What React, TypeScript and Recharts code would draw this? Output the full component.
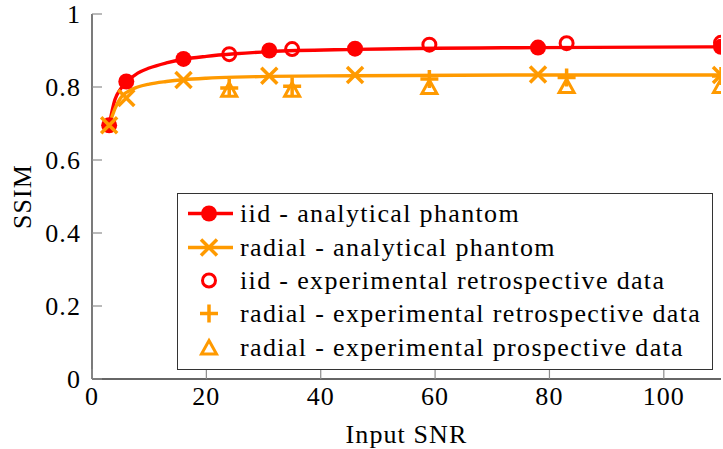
import { ComposedChart, Line, Scatter, XAxis, YAxis, Legend, Label } from "recharts";

const RED = "#ff0000";
const ORANGE = "#ff9a00";
const FONT = "'Liberation Serif', 'Times New Roman', serif";
const AXIS = "#333";
const TICK = "#8c8c8c";

const xTicks = [0, 20, 40, 60, 80, 100];
const yTicks = [0, 0.2, 0.4, 0.6, 0.8, 1];

// fitted curves
const curveSnr = [3, 4, 5, 6, 8, 10, 13, 16, 20, 25, 31, 46, 78, 110];
const iidCurve = [0.695, 0.765, 0.795, 0.813, 0.838, 0.852, 0.866, 0.876, 0.884, 0.891, 0.897, 0.903, 0.908, 0.91];
const radialCurve = [0.695, 0.74, 0.77, 0.785, 0.8, 0.808, 0.815, 0.82, 0.824, 0.827, 0.829, 0.831, 0.833, 0.833];

// analytical phantom markers
const phantomSnr = [3, 6, 16, 31, 46, 78, 110];
const iidPhantom = [0.695, 0.815, 0.877, 0.9, 0.905, 0.908, 0.91];
const radialPhantom = [0.695, 0.77, 0.819, 0.831, 0.833, 0.834, 0.833];

// experimental data
const expSnr = [24, 35, 59, 83, 110];
const iidRetro = [0.89, 0.904, 0.916, 0.92, 0.921];
const radialRetro = [0.797, 0.802, 0.822, 0.826, 0.83];
const radialProsp = [0.79, 0.79, 0.797, 0.8, 0.8];

const legendNames = [
  "iid - analytical phantom",
  "radial - analytical phantom",
  "iid - experimental retrospective data",
  "radial - experimental retrospective data",
  "radial - experimental prospective data",
];

const pts = (xs: number[], ys: number[]) => xs.map((x, i) => ({ x, y: ys[i] }));

// marker shapes
const dotShape = (cx: number, cy: number) => <circle cx={cx} cy={cy} r={8} fill={RED} />;
const xShape = (cx: number, cy: number) => (
  <path d={`M${cx - 8},${cy - 8}L${cx + 8},${cy + 8}M${cx - 8},${cy + 8}L${cx + 8},${cy - 8}`} stroke={ORANGE} strokeWidth={3.5} fill="none" />
);
const ringShape = (cx: number, cy: number) => <circle cx={cx} cy={cy} r={6.5} fill="none" stroke={RED} strokeWidth={3} />;
const plusShape = (cx: number, cy: number) => (
  <path d={`M${cx - 9},${cy}L${cx + 9},${cy}M${cx},${cy - 9}L${cx},${cy + 9}`} stroke={ORANGE} strokeWidth={3.5} fill="none" />
);
const triShape = (cx: number, cy: number) => (
  <polygon points={`${cx},${cy - 8} ${cx + 7.5},${cy + 5.5} ${cx - 7.5},${cy + 5.5}`} stroke={ORANGE} strokeWidth={3} fill="none" />
);

const icons = [
  <g><line x1={10} x2={55} y1={16.5} y2={16.5} stroke={RED} strokeWidth={3.4} />{dotShape(31, 16.5)}</g>,
  <g><line x1={10} x2={55} y1={16.5} y2={16.5} stroke={ORANGE} strokeWidth={3.4} />{xShape(31, 16.5)}</g>,
  ringShape(31, 16.5),
  plusShape(31, 16.5),
  triShape(31, 17.5),
];

const textStyle = { fontFamily: FONT, fontSize: 26, letterSpacing: 1.1, fill: "#000" };

const bottomTick = (p: any) => (
  <g>
    <line x1={p.x} x2={p.x} y1={p.y - 8} y2={p.y - 18} stroke={TICK} strokeWidth={1.2} />
    <text x={p.x} y={p.y} dy="0.71em" textAnchor="middle" style={textStyle}>{p.payload.value}</text>
  </g>
);
const leftTick = (p: any) => (
  <g>
    <line x1={p.x + 11} x2={p.x + 21} y1={p.y} y2={p.y} stroke={TICK} strokeWidth={1.2} />
    <text x={p.x} y={p.y} dy="0.355em" textAnchor="end" style={textStyle}>{p.payload.value}</text>
  </g>
);
const topTick = (p: any) => <line x1={p.x} x2={p.x} y1={p.y} y2={p.y + 10} stroke={TICK} strokeWidth={1.2} />;
const rightTick = (p: any) => <line x1={p.x} x2={p.x - 10} y1={p.y} y2={p.y} stroke={TICK} strokeWidth={1.2} />;

const LegendBox = () => (
  <div
    style={{
      width: 536,
      height: 177,
      border: `1.3px solid ${AXIS}`,
      background: "#fff",
      boxSizing: "border-box",
      paddingTop: 3,
      fontFamily: FONT,
      fontSize: 26,
      letterSpacing: 1.35,
      color: "#000",
    }}
  >
    {legendNames.map((name, i) => (
      <div key={name} style={{ display: "flex", alignItems: "center", height: 33.4 }}>
        <svg width={62} height={33} style={{ flex: "none" }}>{icons[i]}</svg>
        <span style={{ whiteSpace: "nowrap", lineHeight: "33px" }}>{name}</span>
      </div>
    ))}
  </div>
);

export default function App() {
  return (
    <div style={{ position: "absolute", left: 0, top: 0 }}>
      <ComposedChart width={723} height={449} margin={{ top: 14, right: 2, bottom: 0, left: 0 }}>
        <XAxis
          type="number"
          dataKey="x"
          domain={[0, 110]}
          ticks={xTicks}
          allowDataOverflow
          height={70}
          tickSize={0}
          tickMargin={8}
          tick={bottomTick}
          axisLine={{ stroke: AXIS, strokeWidth: 1.3 }}
        >
          <Label value="Input SNR" position="insideBottom" offset={6} style={{ ...textStyle, textAnchor: "middle" }} />
        </XAxis>
        <XAxis
          xAxisId="top"
          orientation="top"
          type="number"
          dataKey="x"
          domain={[0, 110]}
          ticks={xTicks}
          allowDataOverflow
          height={0}
          tickSize={0}
          tickMargin={0}
          tick={topTick}
          axisLine={{ stroke: AXIS, strokeWidth: 1.3 }}
        />
        <YAxis
          type="number"
          domain={[0, 1]}
          ticks={yTicks}
          width={92}
          tickSize={0}
          tickMargin={11}
          tick={leftTick}
          axisLine={{ stroke: AXIS, strokeWidth: 1.3 }}
        >
          <Label value="SSIM" angle={-90} position="insideLeft" offset={22} style={{ ...textStyle, textAnchor: "middle" }} />
        </YAxis>
        <YAxis
          yAxisId="right"
          orientation="right"
          type="number"
          domain={[0, 1]}
          ticks={yTicks}
          width={0}
          tickSize={0}
          tickMargin={0}
          tick={rightTick}
          axisLine={{ stroke: AXIS, strokeWidth: 1.3 }}
        />

        <Line data={pts(curveSnr, iidCurve)} dataKey="y" type="monotone" stroke={RED} strokeWidth={3.4} dot={false} activeDot={false} isAnimationActive={false} />
        <Scatter data={pts(phantomSnr, iidPhantom)} dataKey="y" shape={(p: any) => dotShape(p.cx, p.cy)} isAnimationActive={false} />
        <Line data={pts(curveSnr, radialCurve)} dataKey="y" type="monotone" stroke={ORANGE} strokeWidth={3.4} dot={false} activeDot={false} isAnimationActive={false} />
        <Scatter data={pts(phantomSnr, radialPhantom)} dataKey="y" shape={(p: any) => xShape(p.cx, p.cy)} isAnimationActive={false} />
        <Scatter data={pts(expSnr, iidRetro)} dataKey="y" shape={(p: any) => ringShape(p.cx, p.cy)} isAnimationActive={false} />
        <Scatter data={pts(expSnr, radialRetro)} dataKey="y" shape={(p: any) => plusShape(p.cx, p.cy)} isAnimationActive={false} />
        <Scatter data={pts(expSnr, radialProsp)} dataKey="y" shape={(p: any) => triShape(p.cx, p.cy)} isAnimationActive={false} />

        <Legend
          layout="vertical"
          align="center"
          verticalAlign="middle"
          content={() => <LegendBox />}
          wrapperStyle={{ left: 177, top: 193, width: 536, height: 177 }}
        />
      </ComposedChart>
    </div>
  );
}
